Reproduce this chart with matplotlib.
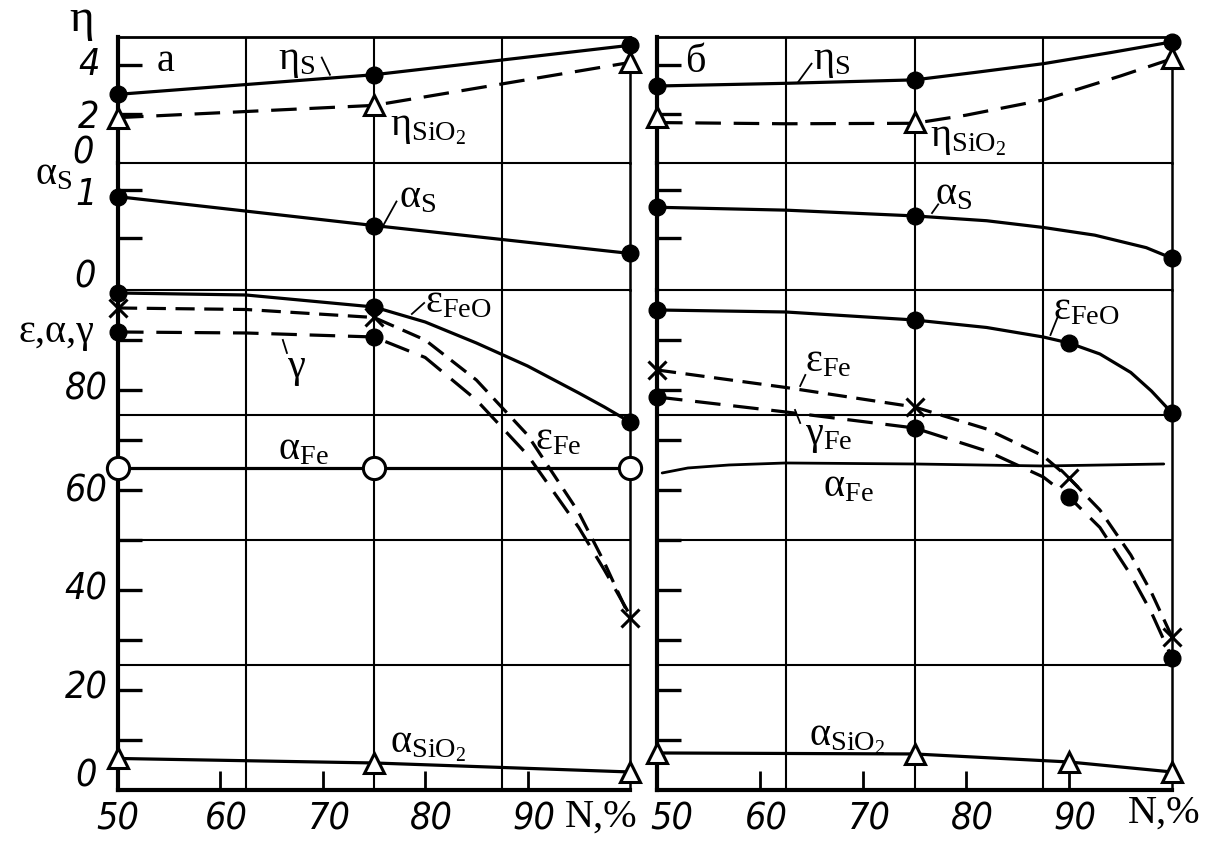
import matplotlib.pyplot as plt

plt.rcParams['mathtext.fontset'] = 'custom'
plt.rcParams['mathtext.rm'] = 'Liberation Serif'
plt.rcParams['mathtext.it'] = 'Liberation Serif:italic'
plt.rcParams['mathtext.bf'] = 'Liberation Serif:bold'
plt.rcParams['mathtext.sf'] = 'Liberation Serif'

# ---------------- panel a ----------------
# marked points, N = 50, 75, 100 %
n_a = [50, 75, 100]
eta_s_a = [2.8, 3.6, 4.8]
eta_sio2_a = [1.85, 2.35, 4.1]
alpha_s_a = [0.93, 0.63, 0.34]
eps_feo_a = [99.4, 96.6, 73.6]
eps_fe_a = [96.4, 94.5, 34.4]
gamma_a = [91.6, 90.6]
alpha_fe_a = [64.4, 64.4, 64.4]
alpha_sio2_a = [6.3, 5.4, 3.6]

# curve traces read between the points
n_curve_a = [50, 62.5, 75, 80, 85, 90, 95, 97.5, 100]
eps_feo_curve_a = [99.4, 99.0, 96.6, 93.6, 89.4, 84.8, 79.4, 76.6, 73.6]
eps_fe_curve_a = [96.4, 96.1, 94.5, 90.0, 82.0, 71.0, 55.5, 45.5, 34.4]
gamma_curve_a = [91.6, 91.4, 90.6, 86.5, 78.0, 67.0, 52.5, 44.0, 35.0]

# ---------------- panel b ----------------
n_b = [50, 75, 100]
n_b4 = [50, 75, 90, 100]
eta_s_b = [3.14, 3.39, 4.94]
eta_sio2_b = [1.88, 1.67, 4.3]
alpha_s_b = [0.82, 0.73, 0.29]
eps_feo_b = [96.0, 94.0, 89.4, 75.4]
eps_fe_b = [84.0, 76.6, 62.4, 30.6]
gamma_fe_b = [78.6, 72.4, 58.6, 26.4]
alpha_sio2_b = [7.4, 7.2, 5.6, 3.6]

n_eta_s_curve_b = [50, 62.5, 75, 81, 87.5, 94, 100]
eta_s_curve_b = [3.14, 3.25, 3.39, 3.7, 4.05, 4.5, 4.94]
n_eta_sio2_curve_b = [50, 62.5, 75, 80, 87.5, 95, 100]
eta_sio2_curve_b = [1.65, 1.6, 1.62, 1.95, 2.57, 3.55, 4.25]
n_alpha_s_curve_b = [50, 62.5, 75, 82, 87.5, 92.5, 97.5, 100]
alpha_s_curve_b = [0.82, 0.79, 0.73, 0.68, 0.61, 0.53, 0.40, 0.29]
n_curve_b = [50, 62.5, 75, 82, 87.5, 90, 93, 96, 98, 100]
eps_feo_curve_b = [96.0, 95.6, 94.0, 92.5, 90.6, 89.4, 87.2, 83.5, 79.8, 75.4]
eps_fe_curve_b = [84.0, 80.5, 76.6, 72.2, 66.8, 62.4, 56.0, 47.0, 39.5, 30.6]
gamma_fe_curve_b = [78.6, 75.6, 72.4, 67.8, 62.6, 58.6, 52.5, 43.0, 35.5, 26.4]
n_alpha_fe_b = [50.5, 53, 57, 62.5, 75, 87.5, 99.2]
alpha_fe_b = [63.4, 64.4, 65.0, 65.4, 65.2, 64.8, 65.2]

x_ticks = [60, 70, 80, 90]
x_labels = ['50', '60', '70', '80', '90']

fig = plt.figure(figsize=(12.14, 8.42), dpi=100)

NUM = dict(family=['Liberation Sans Narrow', 'DejaVu Sans'], style='italic',
           stretch='condensed', fontsize=27)
SER = dict(family=['Liberation Serif', 'DejaVu Serif'], fontsize=29)


def make_panel(left, width):
    ax_eps = fig.add_axes([left, 0.0618, width, 0.5938])
    ax_as = fig.add_axes([left, 0.6556, width, 0.1508])
    ax_eta = fig.add_axes([left, 0.8064, width, 0.1497])
    ax_eps.set_ylim(0, 100)
    ax_as.set_ylim(-0.04, 1.28)
    ax_eta.set_ylim(0, 5.14)
    for ax in (ax_eps, ax_as, ax_eta):
        ax.set_xlim(50, 100)
        ax.patch.set_alpha(0)
        for x in (62.5, 75, 87.5):
            ax.axvline(x, color='k', lw=1.5, zorder=1)
        ax.spines['left'].set_linewidth(3)
        ax.spines['right'].set_linewidth(1.8)
        ax.spines['top'].set_linewidth(1.5)
        ax.spines['bottom'].set_visible(False)
        ax.tick_params(axis='y', direction='in', length=17, width=2.4,
                       labelleft=False)
        ax.tick_params(axis='x', bottom=False, labelbottom=False)
    ax_eta.spines['top'].set_linewidth(2)
    ax_eps.spines['bottom'].set_visible(True)
    ax_eps.spines['bottom'].set_linewidth(3)
    for y in (25, 50, 75):
        ax_eps.axhline(y, color='k', lw=1.5, zorder=1)
    ax_eps.set_yticks(range(10, 100, 10))
    ax_as.set_yticks([0.5, 1])
    ax_eta.set_yticks([2, 4])
    ax_eps.set_xticks(x_ticks)
    ax_eps.tick_params(axis='x', bottom=True, direction='in', length=14, width=2)
    return ax_eta, ax_as, ax_eps


def line(ax, x, y, dash=None, lw=2.3):
    if dash is None:
        ax.plot(x, y, color='k', lw=lw, clip_on=False, zorder=3,
                solid_capstyle='round', solid_joinstyle='round')
    else:
        ax.plot(x, y, color='k', lw=lw, clip_on=False, zorder=3, dashes=dash)


def marks(ax, x, y, kind):
    if kind == 'dot':
        ax.plot(x, y, ls='none', marker='o', ms=12, mfc='k', mec='k',
                clip_on=False, zorder=5)
    elif kind == 'ring':
        ax.plot(x, y, ls='none', marker='o', ms=16, mfc='white', mec='k',
                mew=2.2, clip_on=False, zorder=5)
    elif kind == 'tri':
        ax.plot(x, y, ls='none', marker='^', ms=14, mfc='white', mec='k',
                mew=2.2, clip_on=False, zorder=5)
    elif kind == 'x':
        ax.plot(x, y, ls='none', marker='x', ms=13, mec='k', mew=2.2,
                clip_on=False, zorder=5)


def lead(ax, x0, y0, x1, y1):
    ax.plot([x0, x1], [y0, y1], color='k', lw=1.3, clip_on=False, zorder=4)


def xlabels(ax, shift_first=0.0):
    for i, s in enumerate(x_labels):
        x = 50 + 10 * i + (shift_first if i == 0 else 0.6)
        ax.text(x, -0.06, s, transform=ax.get_xaxis_transform(),
                ha='center', va='center', **NUM)


# ================= panel a =================
eta, a_s, eps = make_panel(0.0972, 0.4217)

line(eta, n_a, eta_s_a)
marks(eta, n_a, eta_s_a, 'dot')
line(eta, n_a, eta_sio2_a, dash=(8, 4))
marks(eta, n_a, eta_sio2_a, 'tri')
line(a_s, n_a, alpha_s_a)
marks(a_s, n_a, alpha_s_a, 'dot')

line(eps, n_curve_a, eps_feo_curve_a)
marks(eps, n_a, eps_feo_a, 'dot')
line(eps, n_curve_a, eps_fe_curve_a, dash=(6, 3))
marks(eps, n_a, eps_fe_a, 'x')
line(eps, n_curve_a, gamma_curve_a, dash=(8, 4))
marks(eps, n_a[:2], gamma_a, 'dot')
line(eps, n_a, alpha_fe_a)
marks(eps, n_a, alpha_fe_a, 'ring')
line(eps, n_a, alpha_sio2_a)
marks(eps, n_a, alpha_sio2_a, 'tri')

# axis labels of panel a
eta.text(46.4, 5.85, 'η', ha='center', va='center',
         family=['Liberation Serif', 'DejaVu Serif'], fontsize=34)
eta.text(47.2, 4.0, '4', ha='center', va='center', **NUM)
eta.text(47.1, 1.85, '2', ha='center', va='center', **NUM)
eta.text(46.6, 0.4, '0', ha='center', va='center', **NUM)
a_s.text(43.7, 1.16, r'$\mathrm{α_{S}}$', ha='center', va='center', **SER)
a_s.text(46.9, 0.95, '1', ha='center', va='center', **NUM)
a_s.text(46.8, 0.09, '0', ha='center', va='center', **NUM)
for v, s in [(80, '80'), (59.6, '60'), (40, '40'), (20.2, '20'), (2.6, '0')]:
    eps.text(46.9, v, s, ha='center', va='center', **NUM)
eps.text(44.0, 91.4, 'ε,α,γ', ha='center', va='center', **SER)
xlabels(eps)
eps.text(93.6, -0.055, 'N,%', transform=eps.get_xaxis_transform(),
         ha='left', va='center', **SER)

eta.text(54.6, 4.12, 'а', ha='center', va='center', **SER)
eta.text(67.5, 4.15, r'$\mathrm{η_{S}}$', ha='center', va='center', **SER)
lead(eta, 69.9, 4.3, 70.7, 3.6)
eta.text(76.6, 1.4, r'$\mathrm{η_{SiO_{2}}}$', ha='left', va='center', **SER)
a_s.text(77.4, 0.92, r'$\mathrm{α_{S}}$', ha='left', va='center', **SER)
lead(a_s, 77.2, 0.88, 75.9, 0.63)
eps.text(80.0, 97.5, r'$\mathrm{ε_{FeO}}$', ha='left', va='center', **SER)
lead(eps, 78.7, 95.2, 79.9, 97.4)
eps.text(67.5, 84.5, 'γ', ha='center', va='center', **SER)
lead(eps, 66.1, 90.0, 66.5, 87.4)
eps.text(68.1, 68.0, r'$\mathrm{α_{Fe}}$', ha='center', va='center', **SER)
eps.text(93.0, 70.0, r'$\mathrm{ε_{Fe}}$', ha='center', va='center', **SER)
eps.text(80.3, 8.8, r'$\mathrm{α_{SiO_{2}}}$', ha='center', va='center', **SER)

# ================= panel b =================
eta, a_s, eps = make_panel(0.5412, 0.4242)

line(eta, n_eta_s_curve_b, eta_s_curve_b)
marks(eta, n_b, eta_s_b, 'dot')
line(eta, n_eta_sio2_curve_b, eta_sio2_curve_b, dash=(8, 4))
marks(eta, n_b, eta_sio2_b, 'tri')
line(a_s, n_alpha_s_curve_b, alpha_s_curve_b)
marks(a_s, n_b, alpha_s_b, 'dot')

line(eps, n_curve_b, eps_feo_curve_b)
marks(eps, n_b4, eps_feo_b, 'dot')
line(eps, n_curve_b, eps_fe_curve_b, dash=(6, 3))
marks(eps, n_b4, eps_fe_b, 'x')
line(eps, n_curve_b, gamma_fe_curve_b, dash=(8, 4))
marks(eps, n_b4, gamma_fe_b, 'dot')
line(eps, n_alpha_fe_b, alpha_fe_b, lw=2.0)
line(eps, n_b4, alpha_sio2_b)
marks(eps, n_b4, alpha_sio2_b, 'tri')

xlabels(eps, shift_first=1.4)
eps.text(95.7, -0.046, 'N,%', transform=eps.get_xaxis_transform(),
         ha='left', va='center', **SER)

eta.text(53.7, 4.08, 'б', ha='center', va='center', **SER)
eta.text(67.0, 4.15, r'$\mathrm{η_{S}}$', ha='center', va='center', **SER)
lead(eta, 63.7, 3.3, 65.0, 4.05)
eta.text(76.5, 0.95, r'$\mathrm{η_{SiO_{2}}}$', ha='left', va='center', **SER)
a_s.text(77.0, 0.95, r'$\mathrm{α_{S}}$', ha='left', va='center', **SER)
lead(a_s, 76.7, 0.76, 77.3, 0.85)
eps.text(88.4, 96.0, r'$\mathrm{ε_{FeO}}$', ha='left', va='center', **SER)
lead(eps, 88.2, 91.0, 88.9, 94.6)
eps.text(64.4, 85.6, r'$\mathrm{ε_{Fe}}$', ha='left', va='center', **SER)
lead(eps, 63.9, 80.8, 64.4, 83.0)
eps.text(64.4, 70.6, r'$\mathrm{γ_{Fe}}$', ha='left', va='center', **SER)
lead(eps, 63.4, 76.0, 63.9, 73.4)
eps.text(66.1, 60.6, r'$\mathrm{α_{Fe}}$', ha='left', va='center', **SER)
eps.text(64.8, 10.2, r'$\mathrm{α_{SiO_{2}}}$', ha='left', va='center', **SER)

fig.savefig('out.png', dpi=100)
